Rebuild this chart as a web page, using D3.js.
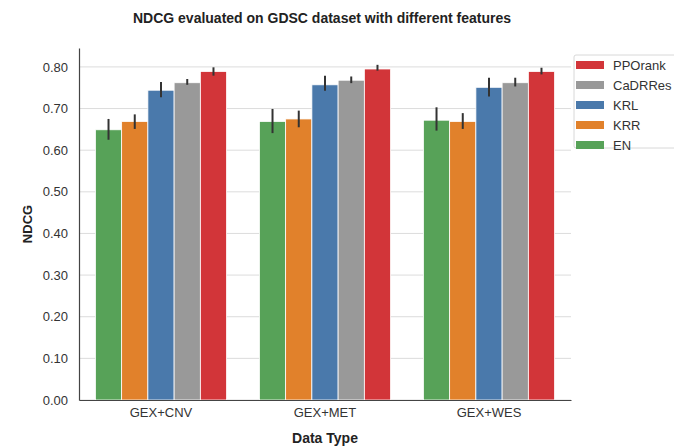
<!DOCTYPE html>
<html>
<head>
<meta charset="utf-8">
<script src="https://cdn.jsdelivr.net/npm/d3@7"></script>
<style>
  body { margin: 0; background: #fff; }
  text { font-family: "Liberation Sans", Arial, sans-serif; }
</style>
</head>
<body>
<script>
// data
var dataTypes = ["GEX+CNV", "GEX+MET", "GEX+WES"];
var methods = ["EN", "KRR", "KRL", "CaDRRes", "PPOrank"];
var legendOrder = ["PPOrank", "CaDRRes", "KRL", "KRR", "EN"];
var colors = ["#57a258", "#e1812b", "#4a79ab", "#999999", "#d23539"];

// mean NDCG per method, one array per data type
var meanCNV = [0.649, 0.669, 0.744, 0.762, 0.789];
var meanMET = [0.669, 0.675, 0.757, 0.768, 0.795];
var meanWES = [0.672, 0.669, 0.751, 0.762, 0.789];
// error bar low/high
var lowCNV  = [0.625, 0.651, 0.727, 0.757, 0.779];
var highCNV = [0.675, 0.686, 0.764, 0.771, 0.799];
var lowMET  = [0.641, 0.655, 0.743, 0.761, 0.791];
var highMET = [0.699, 0.695, 0.779, 0.777, 0.805];
var lowWES  = [0.647, 0.651, 0.729, 0.753, 0.782];
var highWES = [0.703, 0.689, 0.774, 0.774, 0.798];
var yTicks = [0, 0.1, 0.2, 0.3, 0.4, 0.5, 0.6, 0.7, 0.8];

var means = [meanCNV, meanMET, meanWES],
    lows = [lowCNV, lowMET, lowWES],
    highs = [highCNV, highMET, highWES];

var rows = [];
dataTypes.forEach(function(dt, i) {
    methods.forEach(function(m, j) {
        rows.push({type: dt, method: m, value: means[i][j], lo: lows[i][j], hi: highs[i][j], color: colors[j]});
    });
});

var width = 674, height = 447;
var margin = {left: 79, right: 103, top: 48, bottom: 47};

var svg = d3.select("body").append("svg")
    .attr("width", width)
    .attr("height", height);

var x0 = d3.scaleBand()
    .domain(dataTypes)
    .range([margin.left, width - margin.right])
    .paddingInner(0.2)
    .paddingOuter(0.1);

var x1 = d3.scaleBand()
    .domain(methods)
    .range([0, x0.bandwidth()]);

var y = d3.scaleLinear()
    .domain([0, 0.8454])
    .range([height - margin.bottom, margin.top]);

// grid
svg.append("g").selectAll("line")
    .data(yTicks)
    .enter().append("line")
    .attr("x1", margin.left)
    .attr("x2", width - margin.right)
    .attr("y1", function(d) { return y(d); })
    .attr("y2", function(d) { return y(d); })
    .attr("stroke", "#dcdcdc")
    .attr("stroke-width", 1);

// bars
svg.append("g").selectAll("rect")
    .data(rows)
    .enter().append("rect")
    .attr("x", function(d) { return x0(d.type) + x1(d.method); })
    .attr("width", x1.bandwidth())
    .attr("y", function(d) { return y(d.value); })
    .attr("height", function(d) { return y(0) - y(d.value); })
    .attr("fill", function(d) { return d.color; })
    .attr("stroke", "#fff")
    .attr("stroke-width", 0.8);

// error bars
svg.append("g").selectAll("line")
    .data(rows)
    .enter().append("line")
    .attr("x1", function(d) { return x0(d.type) + x1(d.method) + x1.bandwidth() / 2; })
    .attr("x2", function(d) { return x0(d.type) + x1(d.method) + x1.bandwidth() / 2; })
    .attr("y1", function(d) { return y(d.lo); })
    .attr("y2", function(d) { return y(d.hi); })
    .attr("stroke", "#333")
    .attr("stroke-width", 2);

// y axis
var yAxis = svg.append("g")
    .attr("transform", "translate(" + margin.left + ",0)")
    .call(d3.axisLeft(y).tickValues(yTicks).tickFormat(d3.format(".2f")).tickSize(0).tickPadding(11));
yAxis.select(".domain").attr("stroke", "#444").attr("stroke-width", 1.2);
yAxis.selectAll("text").attr("font-size", 13).attr("fill", "#333");

// x axis
var xAxis = svg.append("g")
    .attr("transform", "translate(0," + y(0) + ")")
    .call(d3.axisBottom(x0).tickSize(0).tickPadding(8));
xAxis.select(".domain").attr("stroke", "#444").attr("stroke-width", 1.2);
xAxis.selectAll("text").attr("font-size", 13).attr("fill", "#333");

// title & labels
svg.append("text")
    .attr("x", (margin.left + width - margin.right) / 2 - 3)
    .attr("y", 23)
    .attr("text-anchor", "middle")
    .attr("font-size", 14)
    .attr("font-weight", "bold")
    .attr("fill", "#222")
    .text("NDCG evaluated on GDSC dataset with different features");

svg.append("text")
    .attr("x", (margin.left + width - margin.right) / 2)
    .attr("y", 443)
    .attr("text-anchor", "middle")
    .attr("font-size", 14)
    .attr("font-weight", "bold")
    .attr("fill", "#222")
    .text("Data Type");

svg.append("text")
    .attr("transform", "translate(32," + (height - margin.bottom + margin.top) / 2 + ") rotate(-90)")
    .attr("text-anchor", "middle")
    .attr("font-size", 13)
    .attr("font-weight", "bold")
    .attr("fill", "#222")
    .text("NDCG");

// legend
var legend = svg.append("g").attr("transform", "translate(574,55)");
legend.append("rect")
    .attr("width", 110).attr("height", 93)
    .attr("rx", 2)
    .attr("fill", "#fff")
    .attr("stroke", "#d8d8d8");
legendOrder.forEach(function(m, i) {
    var row = legend.append("g").attr("transform", "translate(2," + (6 + i * 20) + ")");
    row.append("rect")
        .attr("width", 28).attr("height", 8)
        .attr("fill", colors[methods.indexOf(m)]);
    row.append("text")
        .attr("x", 37).attr("y", 9)
        .attr("font-size", 13)
        .attr("fill", "#333")
        .text(m);
});
</script>
</body>
</html>
